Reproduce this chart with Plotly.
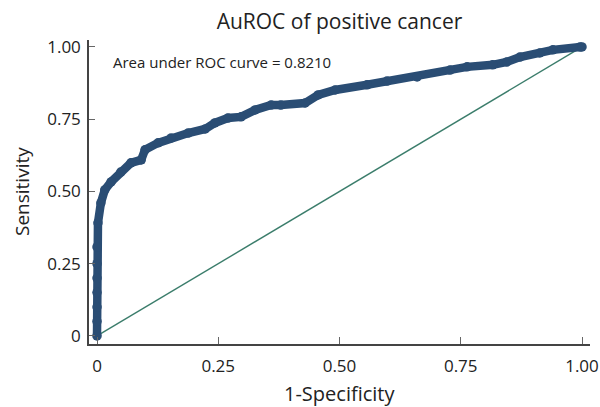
import plotly.graph_objects as go

# ROC curve points (1-specificity, sensitivity)
fpr = [0.0, 0.0, 0.0, 0.0, 0.0, 0.0, 0.0, 0.002, 0.008, 0.016, 0.029, 0.049,
       0.070, 0.091, 0.099, 0.126, 0.153, 0.188, 0.223, 0.243, 0.270, 0.297,
       0.326, 0.359, 0.379, 0.429, 0.456, 0.491, 0.557, 0.598, 0.660, 0.728,
       0.763, 0.816, 0.845, 0.872, 0.913, 0.940, 0.996, 1.0]
tpr = [0.0, 0.05, 0.10, 0.15, 0.20, 0.25, 0.308, 0.391, 0.460, 0.505, 0.533, 0.567,
       0.599, 0.609, 0.644, 0.668, 0.685, 0.702, 0.716, 0.737, 0.754, 0.758,
       0.782, 0.799, 0.799, 0.806, 0.834, 0.851, 0.869, 0.882, 0.896, 0.920,
       0.931, 0.938, 0.948, 0.965, 0.979, 0.990, 1.0, 1.0]

ref_x = [0, 1]
ref_y = [0, 1]

tick_vals = [0, 0.25, 0.5, 0.75, 1.0]
tick_text = ["0", "0.25", "0.50", "0.75", "1.00"]

auc_text = "Area under ROC curve = 0.8210"
title_text = "AuROC of positive cancer"
x_title = "1-Specificity"
y_title = "Sensitivity"

FONT = "Open Sans, Lato, Liberation Sans, sans-serif"
curve_color = "#2a4d74"
ref_color = "#3b7d6b"
text_color = "#222"

fig = go.Figure()
fig.add_trace(go.Scatter(x=ref_x, y=ref_y, mode="lines",
                         line=dict(color=ref_color, width=1.4),
                         showlegend=False, hoverinfo="skip"))
fig.add_trace(go.Scatter(x=fpr, y=tpr, mode="lines+markers",
                         line=dict(color=curve_color, width=8.5),
                         marker=dict(color=curve_color, size=9.5),
                         showlegend=False))

fig.add_annotation(x=0.029, y=0.948, xref="x", yref="y", text=auc_text,
                   showarrow=False, xanchor="left", yanchor="middle",
                   font=dict(family=FONT, size=15, color=text_color))

# axis titles
fig.add_annotation(x=0.5, y=0, xref="paper", yref="paper", text=x_title,
                   showarrow=False, xanchor="center", yanchor="middle", yshift=-49,
                   font=dict(family=FONT, size=20, color=text_color))
fig.add_annotation(x=0, y=0.5, xref="paper", yref="paper", text=y_title,
                   showarrow=False, xanchor="center", yanchor="middle", xshift=-67,
                   textangle=-90,
                   font=dict(family=FONT, size=19, color=text_color))

axis_common = dict(showgrid=False, zeroline=False, showline=True,
                   linecolor="#444", linewidth=1.5, ticks="inside",
                   tickcolor="#666", tickwidth=1.2, automargin=False,
                   tickvals=tick_vals, ticktext=tick_text,
                   tickfont=dict(family=FONT, size=17, color=text_color))

fig.update_layout(
    width=600, height=407,
    margin=dict(l=89, r=10, t=40, b=63),
    paper_bgcolor="white", plot_bgcolor="white",
    title=dict(text=title_text, x=0.5658, xanchor="center", y=0.948, yanchor="middle",
               font=dict(family=FONT, size=21, color=text_color)),
    xaxis=dict(range=[-0.0165, 1.0165], ticklen=7, ticklabelstandoff=6,
               **axis_common),
    yaxis=dict(range=[-0.028, 1.024], ticklen=6, ticklabelstandoff=3,
               **axis_common),
)

fig.write_html("out.html", config={"displayModeBar": False},
               post_script="document.body.style.margin='0';document.body.style.overflow='hidden';")
